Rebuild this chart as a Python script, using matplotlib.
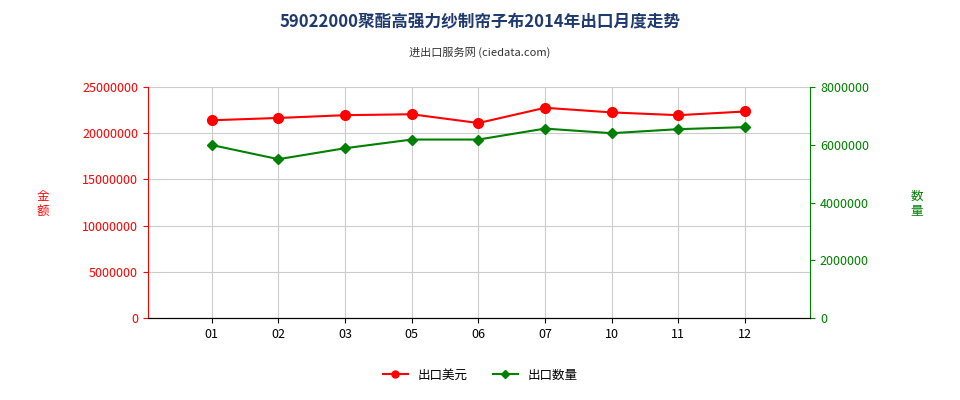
import matplotlib
matplotlib.use("Agg")
import matplotlib.pyplot as plt
from matplotlib import font_manager
from matplotlib.lines import Line2D
import numpy as np

cjk = [f.name for f in font_manager.fontManager.ttflist if "CJK" in f.name]
cjk_name = next((n for n in cjk if "SC" in n), cjk[0] if cjk else "DejaVu Sans")
plt.rcParams["font.family"] = [cjk_name, "DejaVu Sans"]
plt.rcParams["axes.unicode_minus"] = False

MONTHS = ["01", "02", "03", "05", "06", "07", "10", "11", "12"]
VALUE_USD = [21400000, 21650000, 21950000, 22050000, 21100000, 22750000, 22250000, 21950000, 22350000]
QUANTITY = [5990000, 5500000, 5880000, 6180000, 6180000, 6560000, 6400000, 6540000, 6610000]

RED = "#ff0000"
GREEN = "#008000"

fig = plt.figure(figsize=(9.6, 4.0), dpi=100)
ax = fig.add_axes([0.154, 0.205, 0.69, 0.5775])
ax2 = ax.twinx()
x = np.arange(len(MONTHS))

ax.plot(x, VALUE_USD, color=RED, marker="o", markersize=7, linewidth=1.5, zorder=3)
ax2.plot(x, QUANTITY, color=GREEN, marker="D", markersize=5, linewidth=1.5, zorder=3)

ax.set_xlim(-0.96, 8.98)
ax.set_ylim(0, 25000000)
ax2.set_ylim(0, 8000000)
ax.set_yticks(np.arange(0, 25000001, 5000000))
ax2.set_yticks(np.arange(0, 8000001, 2000000))
ax.yaxis.set_major_formatter(matplotlib.ticker.FuncFormatter(lambda v, p: f"{int(v)}"))
ax2.yaxis.set_major_formatter(matplotlib.ticker.FuncFormatter(lambda v, p: f"{int(v)}"))
ax.set_xticks(x)
ax.set_xticklabels(MONTHS)
ax.grid(True, color="#cccccc", linewidth=0.8)
ax.set_axisbelow(True)

ax.tick_params(axis="y", colors=RED, labelsize=9)
ax2.tick_params(axis="y", colors=GREEN, labelsize=9)
ax.tick_params(axis="x", labelsize=9)
for s in ("top", "right"):
    ax.spines[s].set_visible(False)
ax2.spines["top"].set_visible(False)
ax2.spines["left"].set_visible(False)
ax.spines["left"].set_color(RED)
ax2.spines["right"].set_color(GREEN)
ax.spines["bottom"].set_color("#333333")

fig.text(0.045, 0.49, "金\n额", color=RED, fontsize=9, ha="center", va="center")
fig.text(0.955, 0.49, "数\n量", color=GREEN, fontsize=9, ha="center", va="center")

fig.text(0.5, 0.945, "59022000聚酯高强力纱制帘子布2014年出口月度走势", ha="center", va="center",
         fontsize=12, fontweight="bold", color="#1f3a6e")
fig.text(0.5, 0.868, "进出口服务网 (ciedata.com)", ha="center", va="center", fontsize=8, color="#333333")

handles = [Line2D([], [], color=RED, marker="o", markersize=5, label="出口美元"),
           Line2D([], [], color=GREEN, marker="D", markersize=4, label="出口数量")]
fig.legend(handles=handles, loc="center", bbox_to_anchor=(0.5, 0.062), ncol=2, frameon=False, fontsize=9)

fig.savefig("out.png", dpi=100)
